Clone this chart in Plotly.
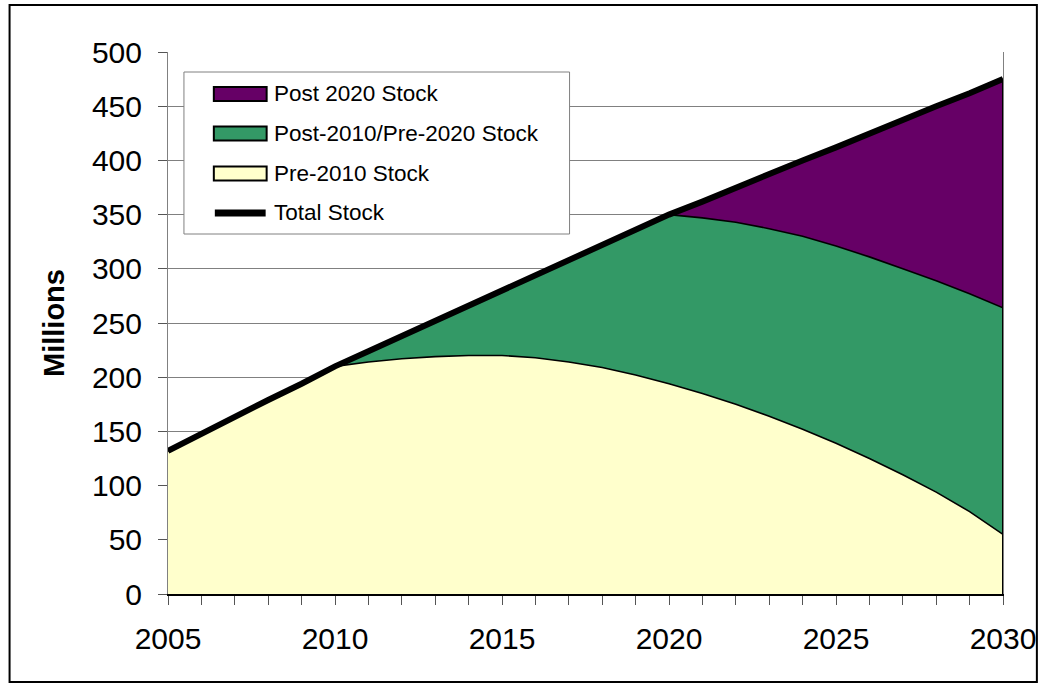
import plotly.graph_objects as go

years = list(range(2005, 2031))
pre_2010 = [132, 148, 163, 179, 194, 210, 214, 217, 219, 220, 220, 218, 214, 209, 202,
            194, 185, 175, 164, 152, 139, 125, 110, 94, 76, 55]
post_2010_pre_2020 = [0, 0, 0, 0, 0, 0, 10, 21, 33, 46, 60, 76, 94, 113, 134,
                      156, 162, 168, 173, 178, 182, 186, 190, 195, 201, 209]
post_2020 = [0, 0, 0, 0, 0, 0, 0, 0, 0, 0, 0, 0, 0, 0, 0,
             0, 15, 32, 50, 70, 91, 114, 137, 161, 185, 211]
total = [132, 148, 163, 179, 194, 210, 224, 238, 252, 266, 280, 294, 308, 322, 336,
         350, 362, 375, 387, 400, 412, 425, 437, 450, 462, 475]

y_ticks = [0, 50, 100, 150, 200, 250, 300, 350, 400, 450, 500]
x_tick_labels = [str(y) if y % 5 == 0 else "" for y in years]

series_names = ["Post 2020 Stock", "Post-2010/Pre-2020 Stock", "Pre-2010 Stock", "Total Stock"]
series_colors = ["#660066", "#339966", "#FFFFCC", "black"]

FONT = "Liberation Sans, Arial, sans-serif"

W, H = 1048, 687
ML, MR, MT, MB = 168, 42, 52, 93
PW, PH = W - ML - MR, H - MT - MB


def px(X):
    return (X - ML) / PW


def py(Y):
    return (H - MB - Y) / PH


fig = go.Figure()
fig.add_trace(go.Scatter(x=years, y=pre_2010, name=series_names[2], stackgroup="one",
                         mode="lines", line=dict(color="black", width=1.6),
                         fillcolor=series_colors[2]))
fig.add_trace(go.Scatter(x=years, y=post_2010_pre_2020, name=series_names[1],
                         stackgroup="one", mode="lines", line=dict(color="black", width=1.6),
                         fillcolor=series_colors[1]))
fig.add_trace(go.Scatter(x=years, y=post_2020, name=series_names[0], stackgroup="one",
                         mode="lines", line=dict(color="black", width=1.6),
                         fillcolor=series_colors[0]))
fig.add_trace(go.Scatter(x=years, y=total, name=series_names[3], mode="lines",
                         line=dict(color="black", width=6)))

# right edge of the stacked areas
fig.add_shape(type="line", x0=years[-1], x1=years[-1], y0=0, y1=total[-1],
              line=dict(color="black", width=2), layer="above")
# outer chart border
fig.add_shape(type="rect", xref="paper", yref="paper", x0=px(9), x1=px(1040),
              y0=py(682), y1=py(5), line=dict(color="black", width=2))

# custom legend (Excel style)
fig.add_shape(type="rect", xref="paper", yref="paper", x0=px(184), x1=px(571),
              y0=py(234), y1=py(72), line=dict(color="#808080", width=1),
              fillcolor="white", layer="above")
entry_y = [94, 133.5, 173.5, 213]
for name, color, yc in zip(series_names, series_colors, entry_y):
    if name == "Total Stock":
        fig.add_shape(type="line", xref="paper", yref="paper", x0=px(215), x1=px(266),
                      y0=py(yc), y1=py(yc), line=dict(color="black", width=7),
                      layer="above")
    else:
        fig.add_shape(type="rect", xref="paper", yref="paper", x0=px(214), x1=px(267),
                      y0=py(yc + 7), y1=py(yc - 7), line=dict(color="black", width=2),
                      fillcolor=color, layer="above")
    fig.add_annotation(xref="paper", yref="paper", x=px(272), y=py(yc), text=name,
                       showarrow=False, xanchor="left", yanchor="middle",
                       font=dict(size=22.5, family=FONT, color="black"))

fig.update_layout(
    width=W, height=H,
    margin=dict(l=ML, r=MR, t=MT, b=MB),
    paper_bgcolor="white", plot_bgcolor="white",
    font=dict(family=FONT, color="black"),
    showlegend=False,
    xaxis=dict(range=[years[0], years[-1]], tickmode="array", tickvals=years,
               ticktext=x_tick_labels, ticks="outside", ticklen=9, tickcolor="#555555",
               showgrid=False, showline=True, linecolor="black", linewidth=2,
               tickfont=dict(size=30, family=FONT), zeroline=False,
               ticklabelstandoff=8),
    yaxis=dict(range=[0, 500], tickmode="array", tickvals=y_ticks, ticks="outside",
               ticklen=9, tickcolor="#555555", showgrid=True, gridcolor="#808080",
               gridwidth=1, showline=True, linecolor="#808080", linewidth=1, mirror=True,
               tickfont=dict(size=30, family=FONT), zeroline=False,
               ticklabelstandoff=10,
               title=dict(text="<b>Millions</b>", font=dict(size=29, family=FONT),
                          standoff=18)),
)

fig.write_html("out.html", config={"displayModeBar": False},
               post_script="document.body.style.margin='0';")
